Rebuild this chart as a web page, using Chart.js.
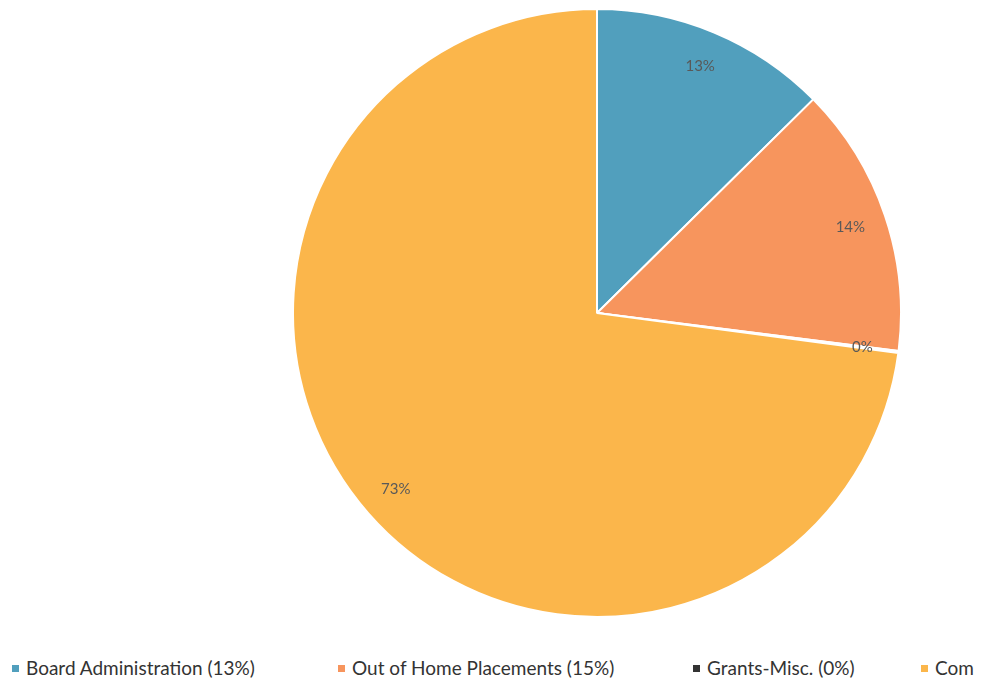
<!DOCTYPE html>
<html>
<head>
<meta charset="utf-8">
<script src="https://cdn.jsdelivr.net/npm/chart.js@4/dist/chart.umd.min.js"></script>
<style>
  body { margin: 0; background: #fff; width: 983px; height: 688px; overflow: hidden; position: relative; }
  #wrap { position: absolute; left: 292px; top: 7px; width: 610px; height: 612px; }
  .lg { position: absolute; top: 656px; font-family: Lato, sans-serif; font-size: 19px; color: #333; white-space: nowrap; }
  .lg i { display: inline-block; width: 7px; height: 7px; margin-right: 7px; vertical-align: middle; position: relative; top: -2px; }
</style>
</head>
<body>
<div id="wrap"><canvas id="myChart"></canvas></div>
<div id="legend"></div>
<script>
var categories = ['Board Administration', 'Out of Home Placements', 'Grants-Misc.', 'Com'];
var shares = [12.6, 14.4, 0.1, 72.9];
var legendPct = ['13%', '15%', '0%', ''];
var colors = ['#519fbd', '#f7955d', '#333333', '#fbb64b'];
var legendLeft = [12, 338, 693, 921];

// legend (last entry is cut off at the page edge in the original)
var lg = document.getElementById('legend');
categories.forEach(function (c, i) {
    var d = document.createElement('div');
    d.className = 'lg';
    d.style.left = legendLeft[i] + 'px';
    d.innerHTML = '<i style="background:' + colors[i] + '"></i>' + c + (legendPct[i] ? ' (' + legendPct[i] + ')' : '');
    lg.appendChild(d);
});

var sliceLabels = {
    id: 'sliceLabels',
    afterDatasetsDraw: function (chart) {
        var ctx = chart.ctx;
        var meta = chart.getDatasetMeta(0);
        ctx.save();
        ctx.font = '15px Lato, sans-serif';
        ctx.fillStyle = '#595959';
        ctx.textAlign = 'center';
        ctx.textBaseline = 'middle';
        meta.data.forEach(function (arc, i) {
            var mid = (arc.startAngle + arc.endAngle) / 2;
            var r = arc.outerRadius * 0.88;
            ctx.fillText(Math.round(shares[i]) + '%', arc.x + Math.cos(mid) * r, arc.y + Math.sin(mid) * r);
        });
        ctx.restore();
    }
};

var ctx = document.getElementById('myChart').getContext('2d');
new Chart(ctx, {
    type: 'pie',
    data: {
        labels: categories,
        datasets: [{
            data: shares,
            backgroundColor: colors,
            borderColor: '#ffffff',
            borderWidth: 2
        }]
    },
    options: {
        responsive: true,
        maintainAspectRatio: false,
        animation: false,
        layout: { padding: 0 },
        plugins: {
            legend: { display: false },
            tooltip: { enabled: false }
        }
    },
    plugins: [sliceLabels]
});
</script>
</body>
</html>
